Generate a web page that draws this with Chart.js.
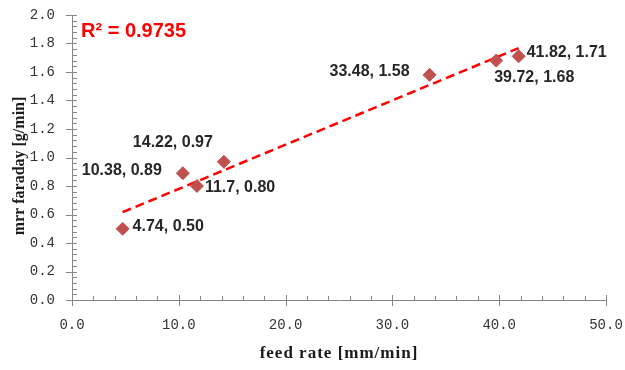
<!DOCTYPE html>
<html>
<head>
<meta charset="utf-8">
<script src="https://cdn.jsdelivr.net/npm/chart.js@4/dist/chart.umd.min.js"></script>
<style>
  html, body { margin: 0; padding: 0; background: #ffffff; }
  #wrap { width: 625px; height: 370px; position: relative; }
</style>
</head>
<body>
<div id="wrap"><canvas id="c" width="625" height="370"></canvas></div>
<script>
// ---- data ----
const feedRate = [4.74, 10.38, 11.7, 14.22, 33.48, 39.72, 41.82];
const mrrFaraday = [0.50, 0.89, 0.80, 0.97, 1.58, 1.68, 1.71];
const trendX = [4.74, 41.82];
const trendY = [0.616, 1.768];
const rSquaredText = 'R² = 0.9735';
const xTitle = 'feed rate [mm/min]';
const yTitle = 'mrr faraday [g/min]';

// label placement (pixels relative to each point) — layout only
const labelPlacement = [
  { dx: 10, dy: -2, align: 'left' },
  { dx: -21, dy: -3, align: 'right' },
  { dx: 8, dy: 2, align: 'left' },
  { dx: -51, dy: -19, align: 'center' },
  { dx: -20, dy: -3, align: 'right' },
  { dx: -2, dy: 17, align: 'left' },
  { dx: 8, dy: -4, align: 'left' }
];

const points = feedRate.map((x, i) => ({ x: x, y: mrrFaraday[i] }));
const trend = trendX.map((x, i) => ({ x: x, y: trendY[i] }));

const AXIS_COLOR = '#868686';

const decorPlugin = {
  id: 'decor',
  afterDraw(chart) {
    const ctx = chart.ctx;
    const xs = chart.scales.x, ys = chart.scales.y;
    const x0 = xs.getPixelForValue(0);
    const y0 = ys.getPixelForValue(0);
    ctx.save();
    ctx.strokeStyle = AXIS_COLOR;
    ctx.lineWidth = 1;
    // x ticks (minor every 2, major every 10)
    for (let i = 0; i <= 25; i++) {
      const v = i * 2;
      const px = Math.round(xs.getPixelForValue(v)) + 0.5;
      ctx.beginPath();
      if (i % 5 === 0) { ctx.moveTo(px, y0 - 5); ctx.lineTo(px, y0 + 6); }
      else { ctx.moveTo(px, y0 - 4); ctx.lineTo(px, y0); }
      ctx.stroke();
    }
    // y ticks (minor every 0.04, major every 0.2)
    for (let i = 0; i <= 50; i++) {
      const v = i * 0.04;
      const py = Math.round(ys.getPixelForValue(v)) + 0.5;
      ctx.beginPath();
      if (i % 5 === 0) { ctx.moveTo(x0 - 6, py); ctx.lineTo(x0 + 5, py); }
      else { ctx.moveTo(x0, py); ctx.lineTo(x0 + 5, py); }
      ctx.stroke();
    }
    // axis titles
    ctx.fillStyle = '#1a1a1a';
    ctx.textAlign = 'center';
    ctx.textBaseline = 'middle';
    ctx.font = 'bold 17px "Liberation Serif"';
    if ('letterSpacing' in ctx) ctx.letterSpacing = '1px';
    ctx.fillText(xTitle, (xs.left + xs.right) / 2, 354);
    if ('letterSpacing' in ctx) ctx.letterSpacing = '0px';
    ctx.font = 'bold 16px "Liberation Serif"';
    ctx.save();
    ctx.translate(20, 166);
    ctx.rotate(-Math.PI / 2);
    ctx.fillText(yTitle, 0, 0);
    ctx.restore();
    // R squared
    ctx.fillStyle = '#ff0000';
    ctx.font = 'bold 20px "Liberation Sans"';
    ctx.textAlign = 'left';
    ctx.fillText(rSquaredText, 81, 31);
    // data labels
    ctx.fillStyle = '#262626';
    ctx.font = 'bold 16px "Liberation Sans"';
    const meta = chart.getDatasetMeta(0);
    meta.data.forEach((el, i) => {
      const p = labelPlacement[i];
      const txt = feedRate[i] + ', ' + mrrFaraday[i].toFixed(2);
      ctx.textAlign = p.align;
      ctx.fillText(txt, el.x + p.dx, el.y + p.dy);
    });
    ctx.restore();
  }
};

new Chart(document.getElementById('c'), {
  type: 'scatter',
  data: {
    datasets: [
      {
        label: 'mrr faraday',
        data: points,
        order: 0,
        pointStyle: 'rectRot',
        pointRadius: 6.5,
        pointHoverRadius: 6.5,
        backgroundColor: '#C0504D',
        borderColor: '#C0504D',
        borderWidth: 1
      },
      {
        label: 'trend',
        data: trend,
        order: 1,
        showLine: true,
        pointRadius: 0,
        borderColor: '#ff0000',
        borderWidth: 2.5,
        borderDash: [9, 5],
        fill: false
      }
    ]
  },
  options: {
    responsive: false,
    animation: false,
    layout: { padding: { top: 15, right: 19, left: 0, bottom: 0 } },
    plugins: { legend: { display: false }, tooltip: { enabled: false } },
    scales: {
      x: {
        type: 'linear',
        min: 0, max: 50,
        afterFit(s) { s.height = 70; s.paddingLeft = 0; s.paddingRight = 0; },
        grid: { display: false, drawTicks: false },
        border: { display: true, color: AXIS_COLOR, width: 1 },
        ticks: {
          stepSize: 10,
          padding: 17,
          color: '#333333',
          font: { family: '"Liberation Mono"', size: 14 },
          callback: v => v.toFixed(1)
        }
      },
      y: {
        type: 'linear',
        min: 0, max: 2,
        afterFit(s) { s.width = 72; s.paddingTop = 0; s.paddingBottom = 0; },
        grid: { display: false, drawTicks: false },
        border: { display: true, color: AXIS_COLOR, width: 1 },
        ticks: {
          stepSize: 0.2,
          padding: 17,
          color: '#333333',
          font: { family: '"Liberation Mono"', size: 14 },
          callback: v => v.toFixed(1)
        }
      }
    }
  },
  plugins: [decorPlugin]
});
</script>
</body>
</html>
